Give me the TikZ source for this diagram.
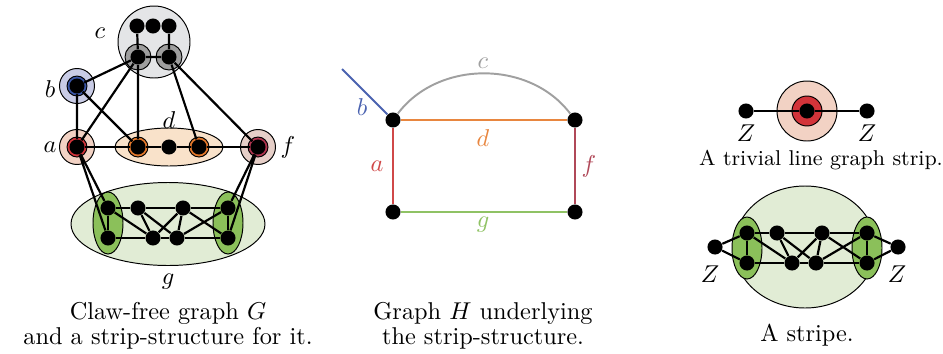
\documentclass[tikz,border=0pt]{standalone}
\usetikzlibrary{backgrounds}
\definecolor{cLav}{HTML}{C9CCE6}
\definecolor{cBlue}{HTML}{3A56A8}
\definecolor{cPeach}{HTML}{F2D2C4}
\definecolor{cRed}{HTML}{D3343A}
\definecolor{cRose}{HTML}{E6CFC8}
\definecolor{cWine}{HTML}{B0354F}
\definecolor{cOrangeL}{HTML}{F9E2CA}
\definecolor{cOrange}{HTML}{E5792B}
\definecolor{cGrayL}{HTML}{E4E5E7}
\definecolor{cGray}{HTML}{9E9E9E}
\definecolor{cGreenL}{HTML}{E1ECD5}
\definecolor{cGreen}{HTML}{8BC05A}
\definecolor{hBlue}{HTML}{4A62B0}
\definecolor{hGray}{HTML}{A0A0A0}
\definecolor{hOrange}{HTML}{E8863F}
\definecolor{hRed}{HTML}{D04848}
\definecolor{hWine}{HTML}{B04858}
\definecolor{hGreen}{HTML}{8FC264}

\begin{document}
\begin{tikzpicture}[x=0.411pt,y=-0.411pt,
   vx/.style={circle,fill=black,inner sep=0pt,minimum size=6.2pt},
   ln/.style={line width=0.9pt},
   hl/.style={line width=0.8pt},
   blob/.style={draw=black,line width=0.4pt}]
  \useasboundingbox (0,0) rectangle (943,353);
  % claw-free graph G
  \node[vx] (c1) at (137,26) {};
  \node[vx] (c2) at (153,26) {};
  \node[vx] (c3) at (169,26) {};
  \node[vx] (c4) at (138,57) {};
  \node[vx] (c5) at (169,57) {};
  \node[vx] (vb) at (77,86) {};
  \node[vx] (va) at (77,147) {};
  \node[vx] (vf) at (258,147) {};
  \node[vx] (d1) at (138,147) {};
  \node[vx] (d2) at (169,147) {};
  \node[vx] (d3) at (199,147) {};
  \node at (100,33) {$c$};
  \node at (50,89) {$b$};
  \node at (50,147) {$a$};
  \node at (169,120) {$d$};
  \node at (288,147) {$f$};
  \node at (168,282) {$g$};
  % the strip g and the stripe share one shape
  \foreach \p/\dx/\dy in {g/0/0,s/639/25}{
    \node[vx] (\p L1) at (108+\dx,208+\dy) {};
    \node[vx] (\p L2) at (108+\dx,238+\dy) {};
    \node[vx] (\p T1) at (138+\dx,208+\dy) {};
    \node[vx] (\p T2) at (183+\dx,208+\dy) {};
    \node[vx] (\p B1) at (153+\dx,238+\dy) {};
    \node[vx] (\p B2) at (177+\dx,238+\dy) {};
    \node[vx] (\p R1) at (228+\dx,208+\dy) {};
    \node[vx] (\p R2) at (228+\dx,238+\dy) {};
    \draw[ln] (\p L1) -- (\p T1) -- (\p T2) -- (\p R1) -- (\p R2) -- (\p B2) -- (\p B1) -- (\p L2) -- (\p L1);
    \draw[ln] (\p L1) -- (\p B1) -- (\p T1) -- (\p B2) -- (\p T2) -- (\p B1);
    \draw[ln] (\p T2) -- (\p R2) (\p R1) -- (\p B2);
  }
  \draw[ln] (c1) -- (c4) -- (c5) -- (c3);
  \draw[ln] (vb) -- (c4) -- (d1) -- (vb) -- (va) -- (c4);
  \draw[ln] (d3) -- (c5) -- (vf);
  \draw[ln] (va) -- (d1) -- (d2) -- (d3) -- (vf);
  \draw[ln] (gL1) -- (va) -- (gL2) (gR1) -- (vf) -- (gR2);
  \begin{scope}[on background layer]
    \filldraw[blob,fill=cGrayL] (154,42) circle [radius=36];
    \filldraw[blob,fill=cGray] (c4) circle [radius=13];
    \filldraw[blob,fill=cGray] (c5) circle [radius=13];
    \filldraw[blob,fill=cLav] (vb) circle [radius=17.5];
    \filldraw[blob,fill=cBlue] (vb) circle [radius=10];
    \filldraw[blob,fill=cPeach] (va) circle [radius=17.5];
    \filldraw[blob,fill=cRed] (va) circle [radius=10];
    \filldraw[blob,fill=cRose] (vf) circle [radius=17.5];
    \filldraw[blob,fill=cWine] (vf) circle [radius=10];
    \filldraw[blob,fill=cOrangeL] (d2) ellipse [x radius=54,y radius=19];
    \filldraw[blob,fill=cOrange] (d1) circle [radius=10];
    \filldraw[blob,fill=cOrange] (d3) circle [radius=10];
    \filldraw[blob,fill=cGreenL] (168,224) ellipse [x radius=97,y radius=41.5];
    \filldraw[blob,fill=cGreenL] (805,247) ellipse [x radius=71,y radius=61];
    \foreach \dx/\dy in {0/0,639/25}{
      \filldraw[blob,fill=cGreen] (108+\dx,223+\dy) ellipse [x radius=15,y radius=31];
      \filldraw[blob,fill=cGreen] (228+\dx,223+\dy) ellipse [x radius=15,y radius=31];
    }
    \filldraw[blob,fill=cPeach] (807,111) circle [radius=30];
    \filldraw[blob,fill=cRed] (807,111) circle [radius=15];
  \end{scope}
  \node[align=center] at (168,326) {Claw-free graph $G$\\[-1.7pt] and a strip-structure for it.};
  % graph H
  \node[vx] (h1) at (393,120) {};
  \node[vx] (h2) at (575,120) {};
  \node[vx] (h3) at (393,212) {};
  \node[vx] (h4) at (575,212) {};
  \coordinate (hb) at (342,69);
  \draw[hl,hBlue] (hb) -- (h1);
  \draw[hl,hGray] (h1) to[bend left=53] (h2);
  \draw[hl,hOrange] (h1) -- (h2);
  \draw[hl,hRed] (h1) -- (h3);
  \draw[hl,hWine] (h2) -- (h4);
  \draw[hl,hGreen] (h3) -- (h4);
  \node[text=hBlue] at (362,107) {$b$};
  \node[text=hGray] at (483,63) {$c$};
  \node[text=hOrange] at (483,138) {$d$};
  \node[text=hRed] at (377,166) {$a$};
  \node[text=hWine] at (589,166) {$f$};
  \node[text=hGreen] at (483,225) {$g$};
  \node[align=center] at (483,326) {Graph $H$ underlying\\[-1.7pt] the strip-structure.};
  % trivial line graph strip
  \node[vx] (t1) at (746,111) {};
  \node[vx] (t2) at (807,111) {};
  \node[vx] (t3) at (867,111) {};
  \draw[ln] (t1) -- (t2) -- (t3);
  \node at (746,133) {$Z$};
  \node at (867,133) {$Z$};
  \node[font=\fontsize{8.8}{10}\selectfont] at (821,160) {A trivial line graph strip.};
  % stripe
  \node[vx] (z1) at (715,247) {};
  \node[vx] (z2) at (898,247) {};
  \draw[ln] (sL1) -- (z1) -- (sL2) (sR1) -- (z2) -- (sR2);
  \node at (710,274) {$Z$};
  \node at (897,274) {$Z$};
  \node at (807,335) {A stripe.};
\end{tikzpicture}
\end{document}
